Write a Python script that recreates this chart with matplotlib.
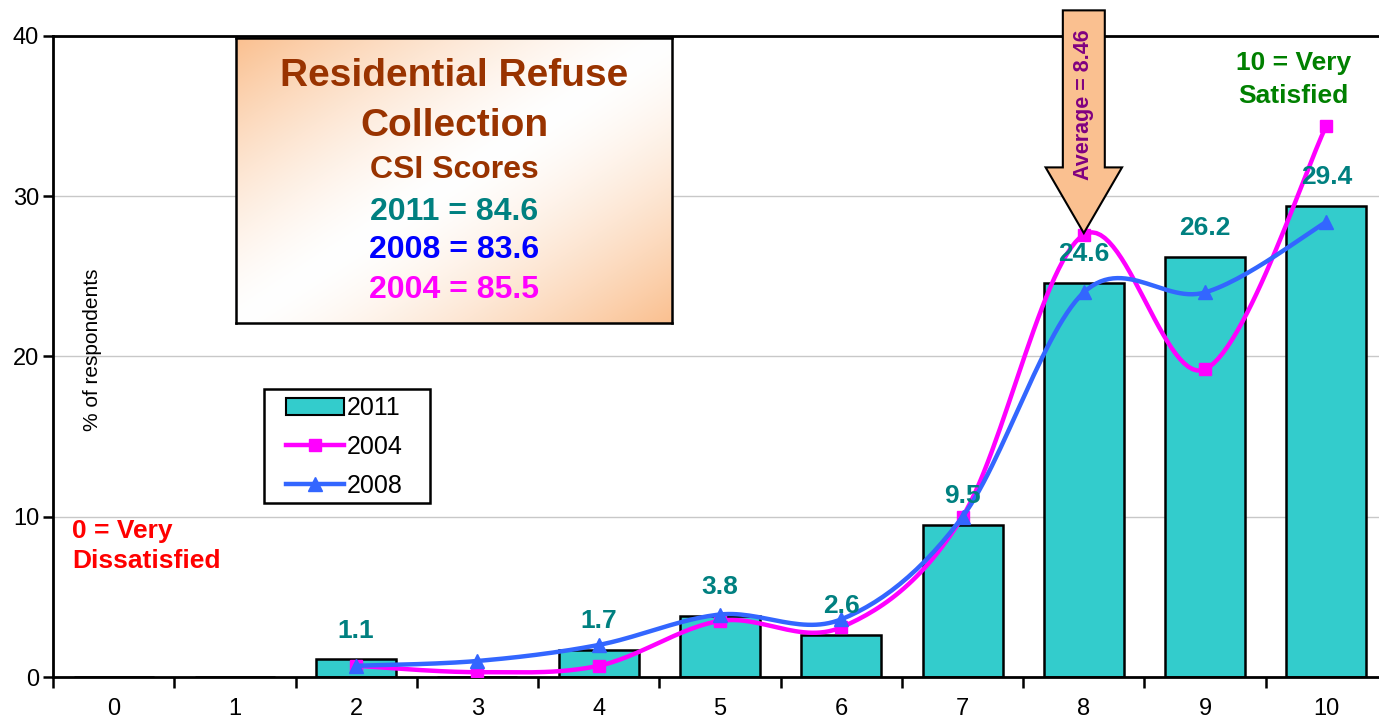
import numpy as np
import matplotlib
matplotlib.use("Agg")
import matplotlib.pyplot as plt
from matplotlib.patches import Polygon, Rectangle
from matplotlib.lines import Line2D

plt.rcParams['font.family'] = ['Liberation Sans', 'DejaVu Sans']

# donnees
scores = [0, 1, 2, 3, 4, 5, 6, 7, 8, 9, 10]
pct_2011 = [0, 0, 1.1, 0, 1.7, 3.8, 2.6, 9.5, 24.6, 26.2, 29.4]
x_lines = [2, 3, 4, 5, 6, 7, 8, 9, 10]
pct_2004 = [0.7, 0.3, 0.7, 3.5, 3.1, 10.0, 27.6, 19.2, 34.4]
pct_2008 = [0.7, 1.0, 2.0, 3.9, 3.6, 10.0, 24.0, 24.0, 28.4]
y_ticks = [0, 10, 20, 30, 40]
avg_score = 8.46

title_lines = ["Residential Refuse", "Collection", "CSI Scores"]
csi_lines = [("2011 = 84.6", "#008080"), ("2008 = 83.6", "#0000FF"), ("2004 = 85.5", "#FF00FF")]


def smooth(xs, ys, n=30):
    # courbe lissee facon Excel (Catmull-Rom)
    xs = np.asarray(xs, float)
    ys = np.asarray(ys, float)
    px = np.concatenate([[xs[0]], xs, [xs[-1]]])
    py = np.concatenate([[ys[0]], ys, [ys[-1]]])
    out_x, out_y = [], []
    t = np.linspace(0, 1, n)
    for i in range(1, len(px) - 2):
        p0, p1, p2, p3 = [np.array([px[j], py[j]]) for j in (i - 1, i, i + 1, i + 2)]
        c1 = p1 + (p2 - p0) / 6
        c2 = p2 - (p3 - p1) / 6
        b = ((1 - t) ** 3)[:, None] * p1 + (3 * (1 - t) ** 2 * t)[:, None] * c1 \
            + (3 * (1 - t) * t ** 2)[:, None] * c2 + (t ** 3)[:, None] * p2
        out_x.extend(b[:, 0])
        out_y.extend(b[:, 1])
    return np.array(out_x), np.array(out_y)


W, H = 1379, 719
fig = plt.figure(figsize=(W / 100, H / 100), dpi=100)
ax = fig.add_axes([53 / W, 1 - 677 / H, (1387 - 53) / W, (677 - 36) / H])

ax.bar(scores, pct_2011, width=0.66, color='#33CCCC', edgecolor='black', linewidth=1.8, zorder=2)

sx, sy = smooth(x_lines, pct_2004)
ax.plot(sx, sy, color='#FF00FF', lw=3.2, zorder=3)
ax.plot(x_lines, pct_2004, 's', color='#FF00FF', ms=9, zorder=3)
sx, sy = smooth(x_lines, pct_2008)
ax.plot(sx, sy, color='#3366FF', lw=3.2, zorder=4)
ax.plot(x_lines, pct_2008, '^', color='#3366FF', ms=10, zorder=4)

for x, v in zip(scores, pct_2011):
    if v > 0:
        ax.text(x, v + 1.8, f"{v:.1f}", ha='center', va='center', fontsize=19,
                fontweight='bold', color='#008080', zorder=5)

ax.set_xlim(-0.5, 10.5)
ax.set_ylim(0, 40)
ax.set_yticks(y_ticks)
ax.set_xticks(scores)
ax.set_xticks(np.arange(-0.5, 10.6, 1), minor=True)
ax.tick_params(axis='x', which='major', length=0, pad=15, labelsize=17)
ax.tick_params(axis='x', which='minor', length=8, width=1.8, direction='out')
ax.tick_params(axis='y', length=7, width=1.8, direction='out', labelsize=17, pad=3)
ax.yaxis.grid(True, color='#C8C8C8', lw=1, zorder=0)
ax.set_axisbelow(True)
for s in ['left', 'bottom', 'top']:
    ax.spines[s].set_linewidth(2)
ax.spines['right'].set_visible(False)

fig.text(93 / W, 1 - 350 / H, "% of respondents", rotation=90, ha='center', va='center', fontsize=15)

# fleche moyenne
ix = x_lines.index(8)
tip_x, tip_y = 8, pct_2004[ix] + 0.1
hw, hh = 0.173, 0.315
arrow = Polygon([[tip_x, tip_y], [tip_x - hh, 31.8], [tip_x - hw, 31.8], [tip_x - hw, 41.6],
                 [tip_x + hw, 41.6], [tip_x + hw, 31.8], [tip_x + hh, 31.8]],
                closed=True, facecolor='#FAC090', edgecolor='black', lw=1.5, clip_on=False, zorder=6)
ax.add_patch(arrow)
ax.text(tip_x, 35.7, f"Average = {avg_score}", rotation=90, ha='center', va='center',
        fontsize=15.5, fontweight='bold', color='#800080', zorder=7, clip_on=False)

ax.text(9.73, 37.3, "10 = Very\nSatisfied", ha='center', va='center', fontsize=19,
        fontweight='bold', color='#008000', linespacing=1.45)
ax.text(-0.34, 8.17, "0 = Very\nDissatisfied", ha='left', va='center', fontsize=19,
        fontweight='bold', color='#FF0000', linespacing=1.35)

# encadre titre avec degrade
bx0, by0, bx1, by1 = 236, 38, 672, 323
bax = fig.add_axes([bx0 / W, 1 - by1 / H, (bx1 - bx0) / W, (by1 - by0) / H])
gx, gy = np.meshgrid(np.linspace(0, 1, 200), np.linspace(0, 1, 200))
t = np.abs(gx - gy)
t = np.clip(t, 0, 1) ** 1.4
peach = np.array([250, 192, 144]) / 255
img = np.ones((200, 200, 3)) * (1 - t[..., None]) + peach * t[..., None]
bax.imshow(img, aspect='auto', extent=[0, 1, 0, 1], origin='upper')
bax.set_xticks([])
bax.set_yticks([])
for s in bax.spines.values():
    s.set_linewidth(1.8)
bax.set_xlim(0, 1)
bax.set_ylim(1, 0)

cx = 454 / W
fig.text(cx, 1 - 76 / H, title_lines[0], ha='center', va='center', fontsize=28, fontweight='bold', color='#993300')
fig.text(cx, 1 - 126 / H, title_lines[1], ha='center', va='center', fontsize=28, fontweight='bold', color='#993300')
fig.text(cx, 1 - 170 / H, title_lines[2], ha='center', va='center', fontsize=23, fontweight='bold', color='#993300')
for (txt, col), yy in zip(csi_lines, [212, 250, 290]):
    fig.text(cx, 1 - yy / H, txt, ha='center', va='center', fontsize=23, fontweight='bold', color=col)

# legende : cadre dessine a part pour garder les marges larges
lx0, ly0, lx1, ly1 = 264, 389, 430, 503
fig.patches.append(Rectangle((lx0 / W, 1 - ly1 / H), (lx1 - lx0) / W, (ly1 - ly0) / H,
                             transform=fig.transFigure, facecolor='white', edgecolor='black',
                             lw=1.8, zorder=7))
handles = [Rectangle((0, 0), 1, 1, facecolor='#33CCCC', edgecolor='black', lw=1.5),
           Line2D([], [], color='#FF00FF', lw=3.2, marker='s', ms=9),
           Line2D([], [], color='#3366FF', lw=3.2, marker='^', ms=10)]
leg = fig.legend(handles, ['2011', '2004', '2008'], loc='upper left',
                 bbox_to_anchor=(286 / W, 1 - 396 / H),
                 fontsize=18, frameon=False,
                 handlelength=2.3, handletextpad=0.12, borderpad=0, labelspacing=0.6,
                 borderaxespad=0)
leg.set_zorder(8)

fig.savefig("out.png", dpi=100)
